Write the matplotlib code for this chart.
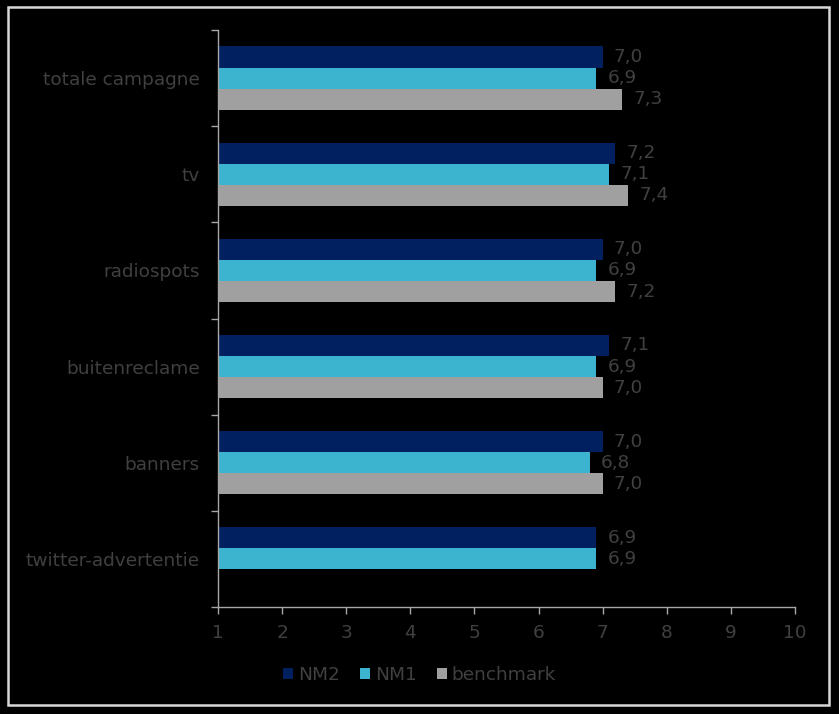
import matplotlib
matplotlib.use("Agg")
import matplotlib.pyplot as plt
import numpy as np
from matplotlib.patches import Rectangle

categories = ["totale campagne", "tv", "radiospots", "buitenreclame", "banners", "twitter-advertentie"]
nm2 = [7.0, 7.2, 7.0, 7.1, 7.0, 6.9]
nm1 = [6.9, 7.1, 6.9, 6.9, 6.8, 6.9]
benchmark = [7.3, 7.4, 7.2, 7.0, 7.0, None]
series_names = ["NM2", "NM1", "benchmark"]
colors = ["#002060", "#3CB4CF", "#A0A0A0"]
xticks = [1, 2, 3, 4, 5, 6, 7, 8, 9, 10]

text_col = "#404040"
axis_col = "#A6A6A6"
fs = 13.3

fig = plt.figure(figsize=(8.39, 7.14), dpi=100, facecolor="black")
ax = fig.add_axes([218/839, 1-607/714, (795-218)/839, (607-30)/714])
ax.set_facecolor("black")

n = len(categories)
ypos = np.arange(n)
h = 0.22
offsets = [-h, 0, h]
for vals, off, col, name in zip([nm2, nm1, benchmark], offsets, colors, series_names):
    ys, ws = [], []
    for i, v in enumerate(vals):
        if v is None:
            continue
        ys.append(ypos[i] + off)
        ws.append(v)
    ax.barh(ys, [w - 1 for w in ws], left=1, height=h, color=col, label=name)
    for y, w in zip(ys, ws):
        ax.annotate(f"{w:.1f}".replace(".", ","), xy=(w, y), xytext=(8, 0),
                    textcoords="offset points", va="center", ha="left",
                    color=text_col, fontsize=fs)

ax.set_xlim(1, 10)
ax.set_ylim(n - 0.5, -0.5)
ax.set_xticks(xticks)
ax.set_xticklabels([str(t) for t in xticks], color=text_col, fontsize=fs)
ax.set_yticks(ypos)
ax.set_yticklabels(categories, color=text_col, fontsize=fs)
ax.tick_params(axis="y", length=0, pad=13)
ax.set_yticks(np.arange(n + 1) - 0.5, minor=True)
ax.tick_params(axis="y", which="minor", length=5, color=axis_col, width=1)
ax.tick_params(axis="x", length=5, color=axis_col, width=1, pad=7)

for s in ["top", "right"]:
    ax.spines[s].set_visible(False)
for s in ["left", "bottom"]:
    ax.spines[s].set_color(axis_col)
    ax.spines[s].set_linewidth(1)

fig.legend(loc="center", bbox_to_anchor=(0.5, 1-675/714), ncol=3, frameon=False,
           fontsize=fs, handlelength=0.55, handleheight=0.55, handletextpad=0.25,
           columnspacing=1.1, labelcolor=text_col)

fig.patches.append(Rectangle((8/839, 1-705/714), (829-8)/839, (705-7)/714,
                             transform=fig.transFigure, fill=False,
                             edgecolor="#D9D9D9", linewidth=1.8))

fig.savefig("out.png", dpi=100, facecolor="black")
